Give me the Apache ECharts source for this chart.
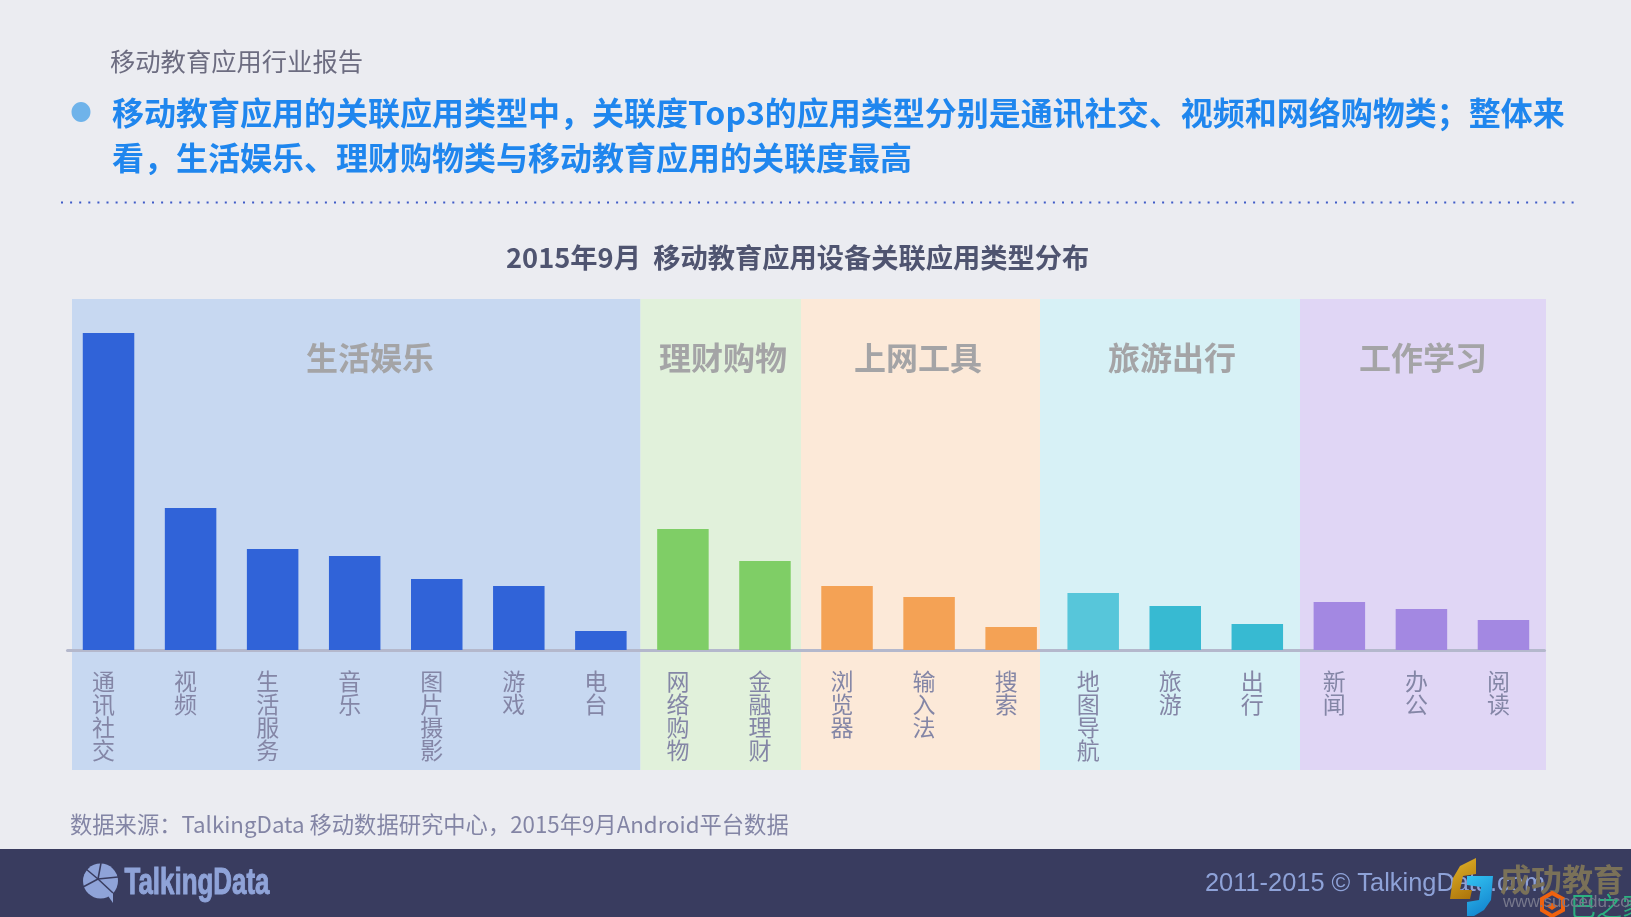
<!DOCTYPE html>
<html><head><meta charset="utf-8">
<style>html,body{margin:0;padding:0;background:#ebecf1}#c{width:1631px;height:917px}</style>
<script src="https://cdn.jsdelivr.net/npm/echarts@6/dist/echarts.min.js"></script>
</head><body><div id="c"></div>
<script>
const categories = ['通讯社交','视频','生活服务','音乐','图片摄影','游戏','电台','网络购物','金融理财','浏览器','输入法','搜索','地图导航','旅游','出行','新闻','办公','阅读'];
const values = [317,142,101,94,71,64,19,121,89,64,53,23,57,44,26,48,41,30];
const barColors = ['#3063d8','#3063d8','#3063d8','#3063d8','#3063d8','#3063d8','#3063d8','#7fce66','#7fce66','#f4a255','#f4a255','#f4a255','#57c6da','#37bad2','#37bad2','#a388e2','#a388e2','#a388e2'];
const groupNames = ['生活娱乐','理财购物','上网工具','旅游出行','工作学习'];
const groupCenters = [370,723,918,1172,1423];
const bandEdges = [72,640.5,801,1040,1300,1546];
const bandColors = ['#c7d8f1','#e1f1db','#fce9d8','#d7f1f6','#e0d6f5'];
const headerText = '移动教育应用行业报告';
const headline = ['移动教育应用的关联应用类型中，关联度Top3的应用类型分别是通讯社交、视频和网络购物类；整体来','看，生活娱乐、理财购物类与移动教育应用的关联度最高'];
const chartTitle = '2015年9月  移动教育应用设备关联应用类型分布';
const sourceText = '数据来源：TalkingData 移动数据研究中心，2015年9月Android平台数据';
const footerRight = '2011-2015 © TalkingData.com';
const CJK = '"Noto Sans CJK SC","Noto Sans",sans-serif';

const gfx = [];
bandColors.forEach((c,i)=>gfx.push({type:'rect',z:0,silent:true,shape:{x:bandEdges[i],y:299,width:bandEdges[i+1]-bandEdges[i],height:471},style:{fill:c}}));
groupNames.forEach((n,i)=>gfx.push({type:'text',z:1,x:groupCenters[i],y:358,style:{text:n,fill:'#a4a4a6',font:'bold 32px '+CJK,textAlign:'center',textVerticalAlign:'middle'}}));
function txt(text,x,y,fill,font,z){gfx.push({type:'text',z:z||20,x,y,style:{text,fill,font,textAlign:'left',textVerticalAlign:'middle'}});}
txt(headerText,110,61,'#6c6c80','25.3px '+CJK);
gfx.push({type:'ellipse',z:20,shape:{cx:81,cy:112,rx:9.5,ry:10},style:{fill:'#6fb3ea'}});
txt(headline[0],112,113,'#1f86ee','bold 32px '+CJK);
txt(headline[1],112,158,'#1f86ee','bold 32px '+CJK);
gfx.push({type:'line',z:20,shape:{x1:61,y1:202.5,x2:1576,y2:202.5},style:{stroke:'#3f5bc8',lineWidth:2,lineDash:[2,7.1]}});
txt(sourceText,70,825,'#8385a5','22.3px '+CJK);
gfx.push({type:'rect',z:20,shape:{x:0,y:849,width:1631,height:68},style:{fill:'#393c5f'}});
// TalkingData logo
gfx.push({type:'polygon',z:21,shape:{points:[[106,893],[113,903],[113,888]]},style:{fill:'#8fa3d8'}});
gfx.push({type:'circle',z:21,shape:{cx:100.5,cy:881,r:17.5},style:{fill:'#8fa3d8'}});
[[98,879,101,863],[98,879,118,877],[98,879,113,893],[98,879,83,887],[98,879,86,869]].forEach(l=>gfx.push({type:'line',z:22,shape:{x1:l[0],y1:l[1],x2:l[2],y2:l[3]},style:{stroke:'#393c5f',lineWidth:1.5}}));
gfx.push({type:'text',z:21,x:124.5,y:884,scaleX:0.72,scaleY:1,style:{text:'TalkingData',fill:'#8fa3d8',stroke:'#8fa3d8',lineWidth:1,font:'bold 36px "Liberation Sans Narrow","Liberation Sans",sans-serif',textAlign:'left',textVerticalAlign:'middle'}});
txt(footerRight,1205,884,'#8ea2d8','25.4px "Liberation Sans",sans-serif');
// watermark overlay
gfx.push({type:'polygon',z:23,shape:{points:[[1476,858],[1476,874],[1463,876],[1460,890],[1472,890],[1470,899],[1450,899],[1453,878],[1460,866]]},style:{fill:new echarts.graphic.LinearGradient(0,0,1,1,[{offset:0,color:'#e3b52a'},{offset:1,color:'#a86f08'}])}});
gfx.push({type:'polygon',z:23,shape:{points:[[1467,876],[1493,876],[1491,900],[1484,910],[1474,916],[1467,916],[1467,902],[1479,900],[1481,887],[1467,885]]},style:{fill:new echarts.graphic.LinearGradient(0,0,1,1,[{offset:0,color:'#33c3f2'},{offset:1,color:'#0f7cc9'}])}});
txt('成功教育',1500,879,'#7a7158','bold 31px '+CJK);
gfx.push({type:'polygon',z:24,shape:{points:[[1552,893],[1563,899],[1563,910],[1552,916],[1542,910],[1542,899]]},style:{fill:'none',stroke:'#f0620e',lineWidth:4}});
gfx.push({type:'polygon',z:24,shape:{points:[[1552,903],[1558,906],[1552,910],[1546,906]]},style:{fill:'#f0620e'}});
txt('巴之家',1570,906,'#2bb07f','26px '+CJK,24);
txt('www.succedu.com',1503,902,'#77788c','17px "Liberation Sans",sans-serif',25);

const chart = echarts.init(document.getElementById('c'),null,{renderer:'canvas'});
chart.setOption({
  animation:false,
  backgroundColor:'#ebecf1',
  title:{text:chartTitle,left:506,top:241,itemGap:0,padding:0,textStyle:{color:'#4f5470',fontSize:27.25,fontWeight:'bold',fontFamily:CJK,lineHeight:34}},
  grid:{left:67.5,width:1477,top:330,height:320},
  xAxis:{type:'category',data:categories,
    axisLine:{show:true,lineStyle:{color:'#b4b8cc',width:3}},axisTick:{show:false},
    axisLabel:{interval:0,margin:20,color:'#8486a6',fontSize:23,lineHeight:23,fontFamily:CJK,padding:[0,10,0,0],verticalAlign:'top',
      formatter:v=>v.split('').join('\n')}},
  yAxis:{type:'value',min:0,max:320,show:false},
  series:[{type:'bar',barWidth:51.5,z:5,data:values.map((v,i)=>({value:v,itemStyle:{color:barColors[i]}}))}],
  graphic:{elements:gfx}
});
</script></body></html>
